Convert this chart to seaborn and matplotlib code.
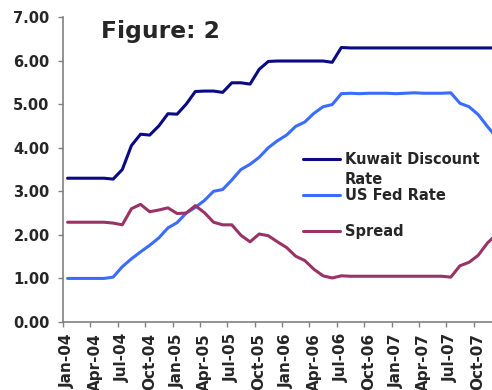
import matplotlib
matplotlib.use("Agg")
import matplotlib.pyplot as plt
from matplotlib.ticker import FixedLocator, FuncFormatter
import numpy as np
import pandas as pd
import seaborn as sns

# Monthly categories, Jan-2004 .. Dec-2007
months = pd.date_range("2004-01-01", periods=48, freq="MS").strftime("%b-%y").tolist()

kuwait_discount = [
    3.30, 3.30, 3.30, 3.30, 3.30, 3.28, 3.50, 4.05, 4.31, 4.29, 4.50, 4.78,
    4.77, 5.00, 5.29, 5.30, 5.30, 5.27, 5.49, 5.49, 5.46, 5.80, 5.98, 5.99,
    5.99, 5.99, 5.99, 5.99, 5.99, 5.96, 6.30, 6.29, 6.29, 6.29, 6.29, 6.29,
    6.29, 6.29, 6.29, 6.29, 6.29, 6.29, 6.29, 6.29, 6.29, 6.29, 6.29, 6.29,
]
us_fed = [
    1.00, 1.00, 1.00, 1.00, 1.00, 1.03, 1.27, 1.45, 1.61, 1.76, 1.93, 2.16,
    2.28, 2.50, 2.63, 2.79, 3.00, 3.04, 3.26, 3.50, 3.62, 3.78, 4.00, 4.16,
    4.29, 4.49, 4.59, 4.79, 4.94, 4.99, 5.24, 5.25, 5.24, 5.25, 5.25, 5.25,
    5.24, 5.25, 5.26, 5.25, 5.25, 5.25, 5.26, 5.02, 4.94, 4.76, 4.49, 4.24,
]
spread = [
    2.29, 2.29, 2.29, 2.29, 2.29, 2.27, 2.23, 2.60, 2.70, 2.53, 2.57, 2.62,
    2.49, 2.50, 2.67, 2.51, 2.29, 2.23, 2.23, 1.99, 1.84, 2.02, 1.98, 1.84,
    1.71, 1.51, 1.41, 1.21, 1.06, 1.01, 1.06, 1.05, 1.05, 1.05, 1.05, 1.05,
    1.05, 1.05, 1.05, 1.05, 1.05, 1.05, 1.03, 1.29, 1.37, 1.53, 1.81, 2.01,
]
series_names = ["Kuwait Discount Rate", "US Fed Rate", "Spread"]
series_colors = ["#0a0a82", "#3a6cff", "#993366"]
y_ticks = [0, 1, 2, 3, 4, 5, 6, 7]

pos = np.arange(len(months))
df = pd.concat([
    pd.DataFrame({"pos": pos, "value": vals, "series": name})
    for name, vals in zip(series_names, [kuwait_discount, us_fed, spread])
])

sns.set_style("white")
plt.rcParams["font.family"] = ["DejaVu Sans"]
plt.rcParams["font.weight"] = "bold"

W, H = 492, 390
fig = plt.figure(figsize=(W / 100, H / 100), dpi=100)
ax = fig.add_axes([63 / W, 1 - 322 / H, 438 / W, 305 / H])

sns.lineplot(data=df, x="pos", y="value", hue="series", hue_order=series_names,
             palette=series_colors, linewidth=2.2, sort=False, legend=False,
             ax=ax)
for ln in ax.lines:
    ln.set_solid_joinstyle("round")
    ln.set_solid_capstyle("round")

ax.set_xlim(-0.5, len(months) - 0.5)
ax.set_ylim(0, 7)
ax.set_xlabel("")
ax.set_ylabel("")

# tick marks on category boundaries every quarter, labels on the category
ax.xaxis.set_major_locator(FixedLocator(np.arange(-0.5, len(months), 3)))
ax.xaxis.set_major_formatter(FuncFormatter(lambda v, p: ""))
ax.xaxis.set_minor_locator(FixedLocator(pos[::3]))
ax.xaxis.set_minor_formatter(FuncFormatter(lambda v, p: months[int(round(v))]))
ax.tick_params(axis="x", which="major", direction="out", length=3.6, width=1,
               color="#808080", bottom=True)
ax.tick_params(axis="x", which="minor", length=0, labelsize=11, rotation=90,
               pad=8, bottom=True)
for lab in ax.get_xticklabels(minor=True):
    lab.set_fontweight("bold")

ax.set_yticks(y_ticks)
ax.yaxis.set_major_formatter(FuncFormatter(lambda v, p: f"{v:.2f}"))
ax.tick_params(axis="y", direction="out", length=3.6, width=1, color="#808080",
               labelsize=10.5, pad=6, left=True)
for lab in ax.get_yticklabels():
    lab.set_fontweight("bold")

for side in ["top", "right"]:
    ax.spines[side].set_visible(False)
for side in ["left", "bottom"]:
    ax.spines[side].set_visible(True)
    ax.spines[side].set_color("#808080")
    ax.spines[side].set_linewidth(1.2)

fig.text(101 / W, 1 - 38 / H, "Figure: 2", fontsize=16.8, fontweight="bold",
         va="baseline", ha="left")

# legend: the first label wraps its last word onto a second line
leg_labels = ["Kuwait Discount", "US Fed Rate", "Spread"]
leg = ax.legend(ax.lines, leg_labels, loc="upper left",
                bbox_to_anchor=((303 - 63) / 438, 1 - (152 - 17) / 305),
                frameon=False, fontsize=10.5, handlelength=2.55,
                handletextpad=0.3, labelspacing=1.45, borderpad=0,
                borderaxespad=0)
for t in leg.get_texts():
    t.set_fontweight("bold")

fig.canvas.draw()
first = leg.get_texts()[0].get_window_extent()
fig.text(first.x0 / W, (first.y1 - 20) / H, "Rate", fontsize=10.5,
         fontweight="bold", ha="left", va="top")

fig.savefig("out.png", dpi=100)
